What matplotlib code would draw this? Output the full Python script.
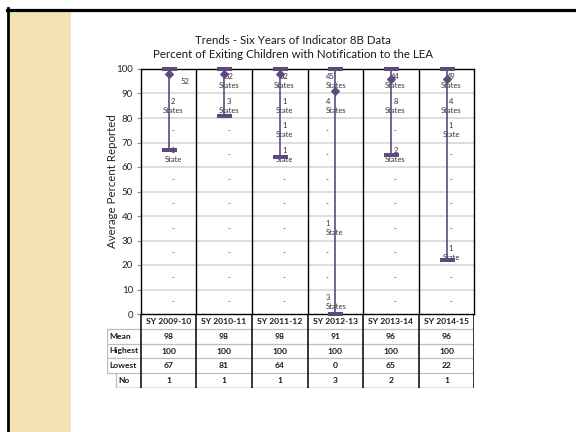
import matplotlib
matplotlib.use('Agg')
import matplotlib.pyplot as plt
from matplotlib.patches import Rectangle
from matplotlib.lines import Line2D

plt.rcParams['font.family'] = ['Lato', 'DejaVu Sans']

# summary of each school year
years = ['SY 2009-10', 'SY 2010-11', 'SY 2011-12', 'SY 2012-13', 'SY 2013-14', 'SY 2014-15']
mean_pct = [98, 98, 98, 91, 96, 96]
highest_pct = [100, 100, 100, 100, 100, 100]
lowest_pct = [67, 81, 64, 0, 65, 22]
no_data = [1, 1, 1, 3, 2, 1]

# states per 10-point band, top band (90-100) first
band_tops = [100, 90, 80, 70, 60, 50, 40, 30, 20, 10]
states_0910 = [52, 2, 0, 1, 0, 0, 0, 0, 0, 0]
states_1011 = [52, 3, 0, 0, 0, 0, 0, 0, 0, 0]
states_1112 = [52, 1, 1, 1, 0, 0, 0, 0, 0, 0]
states_1213 = [45, 4, 0, 0, 0, 0, 1, 0, 0, 3]
states_1314 = [44, 8, 0, 2, 0, 0, 0, 0, 0, 0]
states_1415 = [49, 4, 1, 0, 0, 0, 0, 1, 0, 0]
band_states = [states_0910, states_1011, states_1112, states_1213, states_1314, states_1415]

row_labels = ['Mean', 'Highest', 'Lowest', 'No']
purple = '#5f4a7d'
W, H = 576, 432


def fx(px):
    return px / W


def fy(px):
    return 1 - px / H


fig = plt.figure(figsize=(W / 100, H / 100), dpi=100, facecolor='white')

# slide frame and side stripe
fig.add_artist(Rectangle((fx(9.5), 0), fx(71) - fx(9.5), fy(11), transform=fig.transFigure,
                         facecolor='#f2e2b6', edgecolor='none', zorder=0))
fig.add_artist(Line2D([fx(7), 1], [fy(9.5), fy(9.5)], transform=fig.transFigure, color='black', lw=2.3))
fig.add_artist(Line2D([fx(8), fx(8)], [0, fy(8)], transform=fig.transFigure, color='black', lw=2.0))

# chart area
ax = fig.add_axes([fx(140.7), fy(314), (474.3 - 140.7) / W, (314 - 69) / H])
ax.set_xlim(-0.5, 5.5)
ax.set_ylim(0, 100)
ax.set_yticks(range(0, 101, 10))
ax.set_xticks([])
ax.tick_params(axis='y', length=3, color='#8c8c8c', labelsize=7, pad=2.5, labelcolor='#262626')
for s in ax.spines.values():
    s.set_color('black')
    s.set_linewidth(1.0)
for y in range(10, 100, 10):
    ax.axhline(y, color='#d4d4d4', lw=1.1, zorder=1)
for x in range(5):
    ax.axvline(x + 0.5, color='black', lw=1.0, zorder=1)

xs = range(len(years))
ax.vlines(xs, lowest_pct, highest_pct, color=purple, lw=1.2, zorder=4, clip_on=False)
ax.plot(xs, highest_pct, ls='none', marker='_', ms=10.8, mew=2.9, color=purple, zorder=5, clip_on=False)
ax.plot(xs, lowest_pct, ls='none', marker='_', ms=10.8, mew=2.9, color=purple, zorder=5, clip_on=False)
ax.plot(xs, mean_pct, ls='none', marker='D', ms=4.4, mew=0.8, color=purple, zorder=6, clip_on=False)

# counts of states in each band
for i, counts in enumerate(band_states):
    for top, n in zip(band_tops, counts):
        if n == 0:
            label = '-'
        elif n == 1:
            label = '1\nState'
        else:
            label = f'{n}\nStates'
        xpos, ypos, ha = i + 0.08, top - 5, 'center'
        if i == 3:
            xpos, ha = i - 0.17, 'left'
        if i == 0 and top == 100:
            # the first year only shows the bare count
            label, xpos, ypos = str(n), i + 0.3, 94.7
        ax.text(xpos, ypos, label, ha=ha, va='center', fontsize=5.5, color='#333333',
                linespacing=1.35, zorder=3)

fig.text(fx(113), fy(181), 'Average Percent Reported', rotation=90, ha='center', va='center',
         fontsize=8.3, color='#262626')
fig.text(fx(293.3), fy(40.7), 'Trends - Six Years of Indicator 8B Data', ha='center', va='center',
         fontsize=8.3, color='#1a1a1a')
fig.text(fx(293.3), fy(55), 'Percent of Exiting Children with Notification to the LEA', ha='center',
         va='center', fontsize=8.3, color='#1a1a1a')

# data table under the chart
left = -0.5 - 33.7 / 55.6
tax = fig.add_axes([fx(107), fy(388), (474.3 - 107) / W, (388 - 314) / H])
tax.set_xlim(left, 5.5)
tax.set_ylim(5, 0)
tax.axis('off')

grey = '#bdbdbd'
for r in range(1, 5):
    tax.plot([left, 5.5], [r, r], color=grey, lw=0.9)
tax.plot([-0.95, 5.5], [5, 5], color='#6f6f6f', lw=1.0)
tax.plot([left, left], [1, 4], color=grey, lw=0.9)
tax.plot([-0.95, -0.95], [4, 5], color=grey, lw=0.9)
for x in range(7):
    tax.plot([x - 0.5, x - 0.5], [0, 5], color='black', lw=1.1)

for i, yr in enumerate(years):
    tax.text(i, 0.5, yr, ha='center', va='center', fontsize=6.1, fontweight='bold', color='#1a1a1a')
for r, (lab, vals) in enumerate(zip(row_labels, [mean_pct, highest_pct, lowest_pct, no_data])):
    lx = -0.91 if lab == 'No' else left + 0.04
    tax.text(lx, r + 1.5, lab, ha='left', va='center', fontsize=6.1, fontweight='bold', color='#1a1a1a')
    for i, v in enumerate(vals):
        tax.text(i, r + 1.5, str(v), ha='center', va='center', fontsize=6.1, fontweight='bold',
                 color='#1a1a1a')

fig.savefig('out.png', dpi=100, facecolor='white')
